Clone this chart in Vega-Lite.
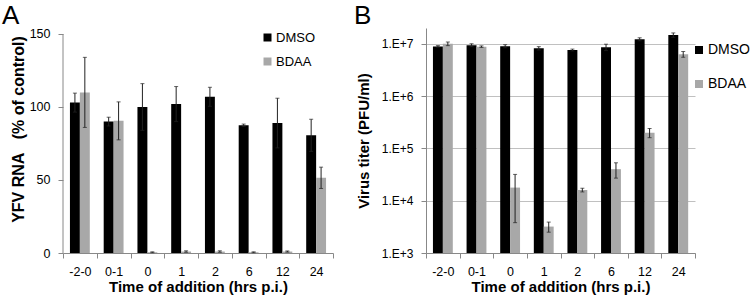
{
  "$schema": "https://vega.github.io/schema/vega-lite/v6.json",
  "padding": {"left": 2, "top": 2, "right": 0, "bottom": 0},
  "background": "white",
  "config": {
    "font": "Liberation Sans",
    "view": {"stroke": null},
    "axis": {
      "domainColor": "#888888",
      "tickColor": "#888888",
      "labelColor": "#000000",
      "titleColor": "#000000",
      "labelFont": "Liberation Sans",
      "titleFont": "Liberation Sans",
      "labelFontSize": 12.5,
      "titleFontSize": 15,
      "titleFontWeight": "bold",
      "tickSize": 5,
      "grid": false
    },
    "legend": {
      "symbolType": "square",
      "symbolSize": 64,
      "symbolStrokeWidth": 0,
      "labelFont": "Liberation Sans",
      "labelColor": "#000000",
      "labelOffset": 2,
      "padding": 0
    }
  },
  "datasets": {
    "a": [
      {"time": "-2-0", "group": "DMSO", "value": 103, "lo": 96.5, "hi": 109.5},
      {"time": "-2-0", "group": "BDAA", "value": 110, "lo": 86, "hi": 134},
      {"time": "0-1", "group": "DMSO", "value": 90, "lo": 87, "hi": 93},
      {"time": "0-1", "group": "BDAA", "value": 90.5, "lo": 77.5, "hi": 103.5},
      {"time": "0", "group": "DMSO", "value": 100, "lo": 84, "hi": 116},
      {"time": "0", "group": "BDAA", "value": 0.5, "lo": 0.2, "hi": 0.8},
      {"time": "1", "group": "DMSO", "value": 102, "lo": 90, "hi": 114},
      {"time": "1", "group": "BDAA", "value": 1, "lo": 0.5, "hi": 1.5},
      {"time": "2", "group": "DMSO", "value": 107, "lo": 100.5, "hi": 113.5},
      {"time": "2", "group": "BDAA", "value": 1, "lo": 0.5, "hi": 1.5},
      {"time": "6", "group": "DMSO", "value": 87.5, "lo": 86.7, "hi": 88.3},
      {"time": "6", "group": "BDAA", "value": 0.5, "lo": 0.2, "hi": 0.8},
      {"time": "12", "group": "DMSO", "value": 89, "lo": 72, "hi": 106},
      {"time": "12", "group": "BDAA", "value": 1, "lo": 0.6, "hi": 1.4},
      {"time": "24", "group": "DMSO", "value": 80.6, "lo": 69.6, "hi": 91.6},
      {"time": "24", "group": "BDAA", "value": 51.5, "lo": 44.2, "hi": 58.8}
    ],
    "b": [
      {"time": "-2-0", "group": "DMSO", "value": 8900000, "lo": 8600000, "hi": 9200000},
      {"time": "-2-0", "group": "BDAA", "value": 10000000, "lo": 9200000, "hi": 10800000},
      {"time": "0-1", "group": "DMSO", "value": 9400000, "lo": 8800000, "hi": 10000000},
      {"time": "0-1", "group": "BDAA", "value": 8800000, "lo": 8500000, "hi": 9100000},
      {"time": "0", "group": "DMSO", "value": 9000000, "lo": 8400000, "hi": 9600000},
      {"time": "0", "group": "BDAA", "value": 17800, "lo": 3800, "hi": 31800},
      {"time": "1", "group": "DMSO", "value": 8200000, "lo": 7600000, "hi": 8800000},
      {"time": "1", "group": "BDAA", "value": 3200, "lo": 2500, "hi": 3900},
      {"time": "2", "group": "DMSO", "value": 7600000, "lo": 7300000, "hi": 7900000},
      {"time": "2", "group": "BDAA", "value": 16000, "lo": 14700, "hi": 17300},
      {"time": "6", "group": "DMSO", "value": 8600000, "lo": 7400000, "hi": 9800000},
      {"time": "6", "group": "BDAA", "value": 40000, "lo": 27000, "hi": 53000},
      {"time": "12", "group": "DMSO", "value": 12200000, "lo": 11400000, "hi": 13000000},
      {"time": "12", "group": "BDAA", "value": 200000, "lo": 160000, "hi": 240000},
      {"time": "24", "group": "DMSO", "value": 14700000, "lo": 13300000, "hi": 16100000},
      {"time": "24", "group": "BDAA", "value": 6300000, "lo": 5500000, "hi": 7100000}
    ]
  },
  "resolve": {"scale": {"color": "independent"}, "legend": {"color": "independent"}},
  "spacing": 20,
  "hconcat": [
    {
      "width": 270,
      "height": 225,
      "title": {"text": "A", "anchor": "start", "frame": "group", "dx": -61, "offset": -1, "fontSize": 26, "fontWeight": "normal", "font": "Liberation Sans", "color": "#000000"},
      "data": {"name": "a"},
      "layer": [
        {
          "mark": {"type": "bar"},
          "encoding": {
            "x": {"field": "time", "type": "nominal", "sort": ["-2-0", "0-1", "0", "1", "2", "6", "12", "24"], "scale": {"paddingInner": 0, "paddingOuter": 0}, "title": "Time of addition (hrs p.i.)", "axis": {"labelAngle": 0, "tickBand": "extent", "labelPadding": 7, "titlePadding": 2}},
            "xOffset": {"field": "group", "type": "nominal", "sort": ["DMSO", "BDAA"], "scale": {"paddingInner": 0, "paddingOuter": 0.7}},
            "y": {"field": "value", "type": "quantitative", "scale": {"domain": [0, 154.1], "nice": false}, "title": "YFV RNA\u00a0\u00a0\u00a0(% of control)", "axis": {"values": [0, 50, 100, 150], "domain": false, "labelPadding": 8, "titlePadding": 3, "titleFontSize": 16, "titleY": 101}},
            "color": {"field": "group", "type": "nominal", "sort": ["DMSO", "BDAA"], "scale": {"domain": ["DMSO", "BDAA"], "range": ["#000000", "#a8a8a8"]}, "legend": {"title": null, "orient": "none", "legendX": 198, "legendY": 3, "labelFontSize": 13, "rowPadding": 10}}
          }
        },
        {
          "mark": {"type": "rule", "color": "#222222", "strokeWidth": 1},
          "encoding": {
            "x": {"field": "time", "type": "nominal", "sort": ["-2-0", "0-1", "0", "1", "2", "6", "12", "24"]},
            "xOffset": {"field": "group", "type": "nominal", "sort": ["DMSO", "BDAA"]},
            "y": {"field": "lo", "type": "quantitative"},
            "y2": {"field": "hi"}
          }
        },
        {
          "mark": {"type": "tick", "color": "#222222", "thickness": 1, "size": 4},
          "encoding": {
            "x": {"field": "time", "type": "nominal", "sort": ["-2-0", "0-1", "0", "1", "2", "6", "12", "24"]},
            "xOffset": {"field": "group", "type": "nominal", "sort": ["DMSO", "BDAA"]},
            "y": {"field": "hi", "type": "quantitative"}
          }
        },
        {
          "mark": {"type": "tick", "color": "#222222", "thickness": 1, "size": 4},
          "encoding": {
            "x": {"field": "time", "type": "nominal", "sort": ["-2-0", "0-1", "0", "1", "2", "6", "12", "24"]},
            "xOffset": {"field": "group", "type": "nominal", "sort": ["DMSO", "BDAA"]},
            "y": {"field": "lo", "type": "quantitative"}
          }
        },
        {
          "data": {"values": [{"axis": "y"}]},
          "mark": {"type": "rule", "color": "#888888", "strokeWidth": 1},
          "encoding": {
            "x": {"datum": "-2-0", "type": "nominal", "bandPosition": 0},
            "y": {"datum": 0, "type": "quantitative"},
            "y2": {"datum": 150}
          }
        }
      ]
    },
    {
      "width": 269,
      "height": 225,
      "title": {"text": "B", "anchor": "start", "frame": "group", "dx": -72, "offset": -1, "fontSize": 26, "fontWeight": "normal", "font": "Liberation Sans", "color": "#000000"},
      "data": {"name": "b"},
      "layer": [
        {
          "mark": {"type": "bar"},
          "encoding": {
            "x": {"field": "time", "type": "nominal", "sort": ["-2-0", "0-1", "0", "1", "2", "6", "12", "24"], "scale": {"paddingInner": 0, "paddingOuter": 0}, "title": "Time of addition (hrs p.i.)", "axis": {"labelAngle": 0, "tickBand": "extent", "labelPadding": 7, "titlePadding": 2}},
            "xOffset": {"field": "group", "type": "nominal", "sort": ["DMSO", "BDAA"], "scale": {"paddingInner": 0, "paddingOuter": 0.7}},
            "y": {"field": "value", "type": "quantitative", "scale": {"type": "log", "domain": [1000, 20000000], "nice": false}, "title": "Virus titer (PFU/ml)", "axis": {"values": [1000, 10000, 100000, 1000000, 10000000], "labelExpr": "'1.E+' + round(log(datum.value) / LN10)", "grid": true, "gridColor": "#c0c0c0", "labelPadding": 8, "titlePadding": 10, "labelFontSize": 12}},
            "y2": {"datum": 1000},
            "color": {"field": "group", "type": "nominal", "sort": ["DMSO", "BDAA"], "scale": {"domain": ["DMSO", "BDAA"], "range": ["#000000", "#a8a8a8"]}, "legend": {"title": null, "orient": "none", "legendX": 266, "legendY": 15, "labelFontSize": 14, "rowPadding": 20}}
          }
        },
        {
          "mark": {"type": "rule", "color": "#222222", "strokeWidth": 1},
          "encoding": {
            "x": {"field": "time", "type": "nominal", "sort": ["-2-0", "0-1", "0", "1", "2", "6", "12", "24"]},
            "xOffset": {"field": "group", "type": "nominal", "sort": ["DMSO", "BDAA"]},
            "y": {"field": "lo", "type": "quantitative"},
            "y2": {"field": "hi"}
          }
        },
        {
          "mark": {"type": "tick", "color": "#222222", "thickness": 1, "size": 4},
          "encoding": {
            "x": {"field": "time", "type": "nominal", "sort": ["-2-0", "0-1", "0", "1", "2", "6", "12", "24"]},
            "xOffset": {"field": "group", "type": "nominal", "sort": ["DMSO", "BDAA"]},
            "y": {"field": "hi", "type": "quantitative"}
          }
        },
        {
          "mark": {"type": "tick", "color": "#222222", "thickness": 1, "size": 4},
          "encoding": {
            "x": {"field": "time", "type": "nominal", "sort": ["-2-0", "0-1", "0", "1", "2", "6", "12", "24"]},
            "xOffset": {"field": "group", "type": "nominal", "sort": ["DMSO", "BDAA"]},
            "y": {"field": "lo", "type": "quantitative"}
          }
        }
      ]
    }
  ]
}
